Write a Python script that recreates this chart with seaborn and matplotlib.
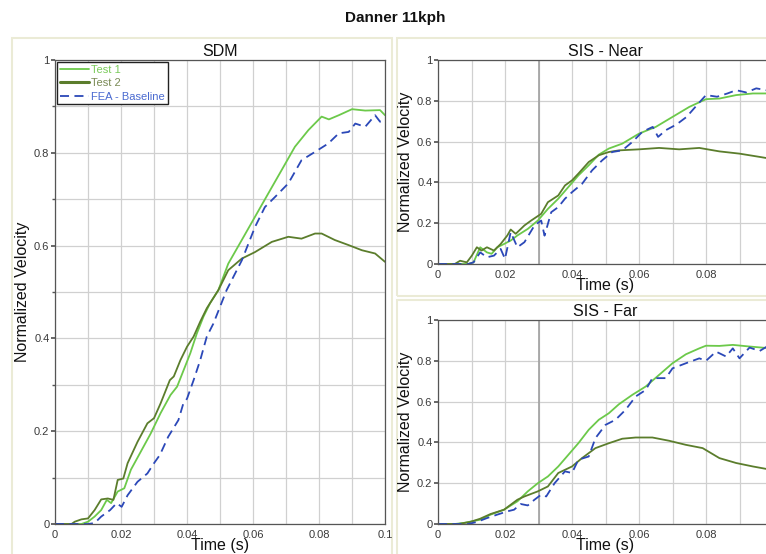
import pandas as pd
import seaborn as sns
import matplotlib.pyplot as plt
from matplotlib.patches import Rectangle
from matplotlib.ticker import MultipleLocator, FuncFormatter

# ---- data ----
series_names = ["Test 1", "Test 2", "FEA - Baseline"]

# SDM
sdm_t1_t = [0, 0.008, 0.010, 0.012, 0.014, 0.0157, 0.017, 0.019, 0.021, 0.023, 0.026, 0.029, 0.032, 0.035, 0.037,
            0.039, 0.041, 0.043, 0.045, 0.047, 0.0495, 0.0525, 0.0566, 0.0606, 0.0646, 0.0687, 0.0727, 0.0768,
            0.0808, 0.083, 0.086, 0.090, 0.094, 0.0985, 0.1]
sdm_t1_v = [0, 0, 0.005, 0.016, 0.03, 0.052, 0.045, 0.07, 0.077, 0.117, 0.156, 0.195, 0.239, 0.278, 0.296,
            0.332, 0.368, 0.411, 0.447, 0.476, 0.504, 0.561, 0.612, 0.662, 0.712, 0.763, 0.813, 0.849,
            0.878, 0.872, 0.881, 0.894, 0.891, 0.892, 0.881]
sdm_t2_t = [0, 0.005, 0.006, 0.008, 0.010, 0.012, 0.014, 0.016, 0.0177, 0.019, 0.0207, 0.022, 0.025, 0.028, 0.030,
            0.032, 0.0348, 0.036, 0.038, 0.040, 0.042, 0.044, 0.046, 0.0495, 0.0525, 0.0566, 0.0606, 0.0657,
            0.0707, 0.0747, 0.0788, 0.0808, 0.0848, 0.089, 0.093, 0.097, 0.1]
sdm_t2_v = [0, 0, 0.005, 0.01, 0.012, 0.03, 0.053, 0.055, 0.052, 0.095, 0.098, 0.131, 0.177, 0.217, 0.228,
            0.26, 0.31, 0.318, 0.353, 0.382, 0.404, 0.436, 0.465, 0.504, 0.547, 0.572, 0.586, 0.608,
            0.619, 0.615, 0.626, 0.626, 0.612, 0.601, 0.59, 0.583, 0.565]
sdm_fea_t = [0, 0.010, 0.012, 0.014, 0.0167, 0.0187, 0.0202, 0.022, 0.025, 0.028, 0.030, 0.0318, 0.0343, 0.0374,
             0.0389, 0.040, 0.042, 0.044, 0.046, 0.048, 0.050, 0.052, 0.0566, 0.0606, 0.0636, 0.0667, 0.0707,
             0.0747, 0.0788, 0.0828, 0.086, 0.089, 0.091, 0.094, 0.097, 0.0985, 0.1]
sdm_fea_v = [0, 0, 0.002, 0.016, 0.03, 0.045, 0.037, 0.062, 0.091, 0.109, 0.131, 0.149, 0.188, 0.224,
             0.26, 0.27, 0.31, 0.353, 0.404, 0.432, 0.468, 0.504, 0.568, 0.64, 0.683, 0.705, 0.734,
             0.784, 0.802, 0.82, 0.842, 0.845, 0.863, 0.856, 0.881, 0.867, 0.871]

# SIS - Near
near_t1_t = [0, 0.009, 0.0106, 0.0126, 0.0146, 0.016, 0.0177, 0.0197, 0.0217, 0.0237, 0.0268, 0.0298, 0.0328,
             0.0359, 0.0389, 0.0419, 0.045, 0.048, 0.051, 0.055, 0.060, 0.065, 0.070, 0.075, 0.080, 0.084,
             0.089, 0.094, 0.1]
near_t1_v = [0, 0, 0.008, 0.082, 0.057, 0.05, 0.082, 0.098, 0.115, 0.14, 0.172, 0.213, 0.27,
             0.32, 0.377, 0.434, 0.484, 0.536, 0.566, 0.59, 0.639, 0.672, 0.721, 0.77, 0.808, 0.811,
             0.828, 0.836, 0.836]
near_t2_t = [0, 0.005, 0.0066, 0.0086, 0.0101, 0.0116, 0.013, 0.0146, 0.0167, 0.0187, 0.0207, 0.0217, 0.0232,
             0.0258, 0.0278, 0.0308, 0.0328, 0.0359, 0.0379, 0.040, 0.0419, 0.045, 0.048, 0.051, 0.054,
             0.060, 0.066, 0.072, 0.078, 0.084, 0.090, 0.096, 0.1]
near_t2_v = [0, 0, 0.016, 0.008, 0.041, 0.082, 0.066, 0.082, 0.066, 0.098, 0.14, 0.169, 0.148,
             0.189, 0.213, 0.246, 0.303, 0.336, 0.385, 0.41, 0.443, 0.5, 0.533, 0.549, 0.557,
             0.562, 0.569, 0.562, 0.569, 0.552, 0.541, 0.525, 0.514]
near_fea_t = [0, 0.009, 0.0106, 0.0126, 0.0146, 0.0167, 0.0187, 0.020, 0.0217, 0.0237, 0.0258, 0.0288, 0.0308,
              0.0318, 0.0338, 0.0359, 0.0379, 0.040, 0.043, 0.046, 0.049, 0.052, 0.055, 0.058, 0.061,
              0.0641, 0.0657, 0.068, 0.0712, 0.0742, 0.0773, 0.080, 0.0833, 0.0864, 0.089, 0.092, 0.095,
              0.098, 0.1]
near_fea_v = [0, 0, 0.008, 0.057, 0.033, 0.041, 0.074, 0.025, 0.156, 0.082, 0.107, 0.189, 0.213,
              0.139, 0.254, 0.279, 0.32, 0.352, 0.393, 0.459, 0.508, 0.549, 0.557, 0.598, 0.648,
              0.672, 0.623, 0.656, 0.684, 0.721, 0.779, 0.828, 0.82, 0.836, 0.852, 0.841, 0.861,
              0.852, 0.855]

# SIS - Far
far_t1_t = [0, 0.005, 0.0076, 0.0126, 0.0157, 0.0197, 0.0237, 0.0268, 0.0298, 0.0328, 0.0359, 0.0389, 0.0419,
            0.045, 0.048, 0.051, 0.054, 0.058, 0.062, 0.066, 0.070, 0.074, 0.078, 0.080, 0.084, 0.088,
            0.093, 0.1]
far_t1_v = [0, 0, 0.005, 0.021, 0.046, 0.07, 0.111, 0.16, 0.2, 0.233, 0.282, 0.339, 0.396,
            0.462, 0.511, 0.543, 0.587, 0.633, 0.674, 0.731, 0.788, 0.832, 0.861, 0.874, 0.873, 0.878,
            0.87, 0.86]
far_t2_t = [0, 0.006, 0.0096, 0.0126, 0.0157, 0.0197, 0.0237, 0.0258, 0.0298, 0.0328, 0.0359, 0.040, 0.043,
            0.047, 0.051, 0.055, 0.059, 0.064, 0.069, 0.074, 0.079, 0.084, 0.089, 0.094, 0.1]
far_t2_v = [0, 0, 0.01, 0.026, 0.049, 0.07, 0.119, 0.135, 0.16, 0.184, 0.25, 0.282, 0.323,
            0.372, 0.396, 0.418, 0.424, 0.424, 0.408, 0.388, 0.372, 0.323, 0.299, 0.282, 0.264]
far_fea_t = [0, 0.009, 0.0116, 0.0146, 0.0177, 0.0207, 0.0227, 0.0247, 0.0268, 0.0288, 0.0308, 0.0323, 0.0348,
             0.0379, 0.040, 0.0419, 0.045, 0.047, 0.050, 0.053, 0.056, 0.059, 0.062, 0.064, 0.068, 0.070,
             0.074, 0.078, 0.080, 0.083, 0.086, 0.088, 0.090, 0.093, 0.096, 0.099]
far_fea_v = [0, 0, 0.01, 0.029, 0.046, 0.062, 0.07, 0.098, 0.091, 0.119, 0.144, 0.135, 0.2,
             0.258, 0.25, 0.315, 0.331, 0.421, 0.486, 0.511, 0.56, 0.625, 0.657, 0.715, 0.715, 0.763,
             0.788, 0.812, 0.8, 0.845, 0.821, 0.861, 0.812, 0.865, 0.848, 0.878]

colors = {"Test 1": "#6cc94a", "Test 2": "#5b7d2c", "FEA - Baseline": "#2b48b8"}
legend_colors = {"Test 1": "#7acb5a", "Test 2": "#7a8a55", "FEA - Baseline": "#4a6ad0"}

sns.set_theme(style="white")
plt.rcParams["font.family"] = ["Liberation Sans", "DejaVu Sans"]

fig = plt.figure(figsize=(7.66, 5.54), dpi=100)
W, H = 766, 554

# beige panel frames (drawn behind the axes)
for (x0, y0, x1, y1) in [(12, 38, 392, 560), (397, 38, 770, 296), (397, 300, 770, 560)]:
    fig.patches.append(Rectangle((x0 / W, 1 - y1 / H), (x1 - x0) / W, (y1 - y0) / H,
                                 transform=fig.transFigure, facecolor="none",
                                 edgecolor="#ebebd6", lw=1.5, zorder=-5))

fig.text(395 / W, 1 - 18 / H, "Danner 11kph", ha="center", va="center",
         fontsize=11, fontweight="bold", color="#111111")


def px_axes(left, top, right, bottom):
    return fig.add_axes([left / W, 1 - bottom / H, (right - left) / W, (bottom - top) / H])


ax_sdm = px_axes(55, 60, 385, 524)
ax_near = px_axes(438, 60, 773, 264)
ax_far = px_axes(438, 320, 773, 524)

panels = [
    (ax_sdm, "SDM", [(sdm_t1_t, sdm_t1_v), (sdm_t2_t, sdm_t2_v), (sdm_fea_t, sdm_fea_v)], 0.1, None),
    (ax_near, "SIS - Near", [(near_t1_t, near_t1_v), (near_t2_t, near_t2_v), (near_fea_t, near_fea_v)], 0.2, "#a0a0a0"),
    (ax_far, "SIS - Far", [(far_t1_t, far_t1_v), (far_t2_t, far_t2_v), (far_fea_t, far_fea_v)], 0.2, "#a0a0a0"),
]


def fmt(v, pos):
    return f"{v:.2f}".rstrip("0").rstrip(".")


for ax, title, data, ygrid, mark_col in panels:
    ax.patch.set_facecolor("white")
    for name, (t, v) in zip(series_names, data):
        dashed = name == "FEA - Baseline"
        sns.lineplot(x=t, y=v, ax=ax, color=colors[name], lw=1.3, label=name,
                     linestyle="--" if dashed else "-")
        if dashed:
            ax.lines[-1].set_dashes((5, 3))
    ax.set_xlim(0, 0.1)
    ax.set_ylim(0, 1)
    ax.xaxis.set_major_locator(MultipleLocator(0.02))
    ax.xaxis.set_minor_locator(MultipleLocator(0.01))
    ax.yaxis.set_major_locator(MultipleLocator(0.2))
    ax.yaxis.set_minor_locator(MultipleLocator(ygrid))
    ax.xaxis.set_major_formatter(FuncFormatter(fmt))
    ax.yaxis.set_major_formatter(FuncFormatter(fmt))
    ax.grid(True, which="both", color="#d0d0d0", lw=0.9)
    if mark_col:
        ax.axvline(0.03, color=mark_col, lw=1.2, zorder=1)
    ax.set_axisbelow(True)
    ax.tick_params(axis="both", which="major", labelsize=8, labelcolor="#3a3a3a",
                   length=3, color="#555555", pad=1)
    ax.tick_params(axis="y", which="minor", length=2, color="#555555")
    ax.tick_params(left=True, bottom=False, which="both")
    for sp in ax.spines.values():
        sp.set_color("#555555")
        sp.set_linewidth(0.9)
    ax.set_title(title, fontsize=11.5, pad=3, color="#111111")
    ax.set_xlabel("Time (s)", fontsize=11.5, labelpad=-1, color="#111111")
    ax.set_ylabel("Normalized Velocity", fontsize=11.5, labelpad=3, color="#111111")
    ax.get_legend().remove()

handles, labels = ax_sdm.get_legend_handles_labels()
leg = ax_sdm.legend(handles, labels, loc="upper left", fontsize=8, frameon=True, fancybox=False,
                    edgecolor="#222222", borderaxespad=0.2, handlelength=2.6, handletextpad=0.2,
                    borderpad=0.25, labelspacing=0.3, framealpha=1)
leg.get_frame().set_linewidth(1.0)
for txt, name in zip(leg.get_texts(), series_names):
    txt.set_color(legend_colors[name])
leg.legend_handles[1].set_linewidth(2.2)

fig.savefig("out.png", dpi=100)
